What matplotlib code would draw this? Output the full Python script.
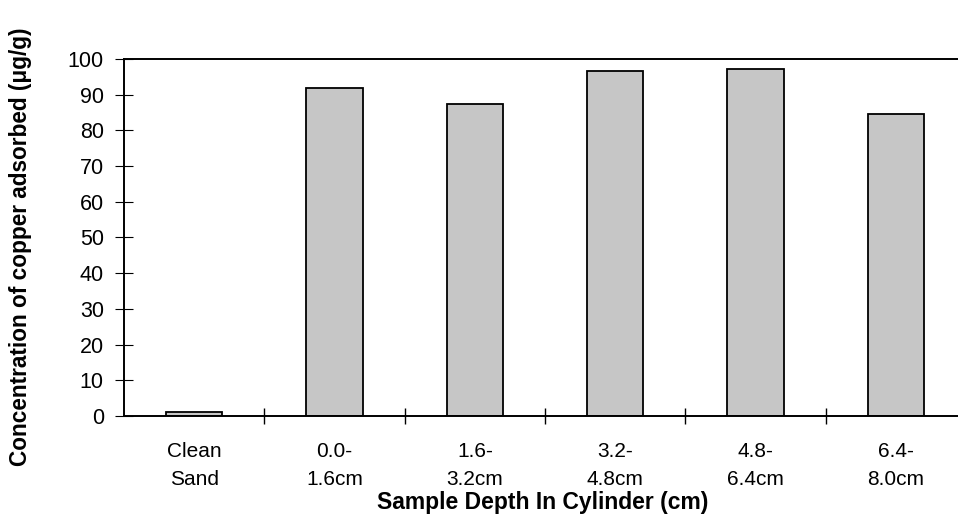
import matplotlib.pyplot as plt
import numpy as np

plt.rcParams['font.family'] = ['Liberation Sans', 'DejaVu Sans']

# Copper adsorbed per sand layer
depths = ['Clean\nSand', '0.0-\n1.6cm', '1.6-\n3.2cm', '3.2-\n4.8cm', '4.8-\n6.4cm', '6.4-\n8.0cm']
copper = [1.0, 92.0, 87.3, 96.5, 97.3, 84.7]

fig = plt.figure(figsize=(9.58, 5.17), dpi=100)
ax = fig.add_axes([0.1294, 0.1954, 0.879, 0.6905])

x = np.arange(len(depths))
ax.bar(x, copper, width=0.4, color='#c6c6c6', edgecolor='black', linewidth=1.3)

ax.set_xlim(-0.5, len(depths) - 0.5)
ax.set_ylim(0, 100)
ax.set_yticks(np.arange(0, 101, 10))

# ticks sit on the category boundaries, labels on the centres
ax.set_xticks(x + 0.5)
ax.set_xticklabels([])
ax.set_xticks(x, minor=True)
ax.set_xticklabels(depths, minor=True, fontsize=15, linespacing=1.55)
ax.tick_params(axis='x', which='major', direction='inout', length=12, width=1)
ax.tick_params(axis='x', which='minor', length=0, pad=19)
ax.tick_params(axis='y', direction='inout', length=13, width=0.8, pad=8, labelsize=15.5)

for side in ['left', 'bottom', 'top']:
    ax.spines[side].set_linewidth(1.4)
ax.spines['right'].set_visible(False)

fig.text(0.021, 0.522, 'Concentration of copper adsorbed (μg/g)', rotation=90,
         ha='center', va='center', fontsize=16.3, fontweight='bold')
fig.text(0.566, 0.028, 'Sample Depth In Cylinder (cm)', ha='center', va='center',
         fontsize=16.5, fontweight='bold')

fig.savefig('out.png', dpi=100)
